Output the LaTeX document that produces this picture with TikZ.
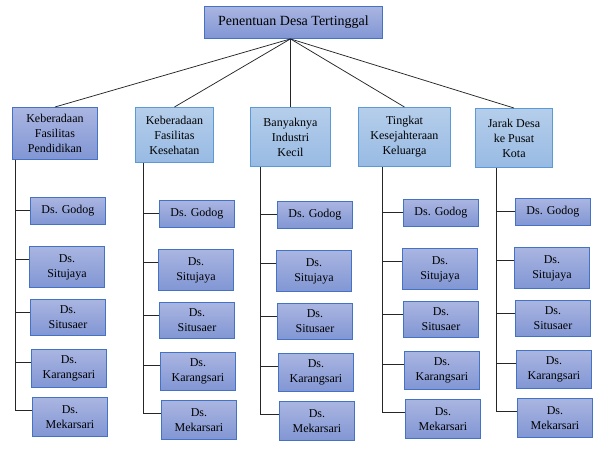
\documentclass[tikz,border=0pt]{standalone}
\usepackage{fontspec}
\setmainfont{Liberation Serif}
\usepackage{tikz}
\usetikzlibrary{calc}
\definecolor{darkline}{HTML}{4472C4}
\definecolor{darktop}{HTML}{AAB5E1}
\definecolor{darkbot}{HTML}{8196D4}
\definecolor{lightline}{HTML}{5B9BD5}
\definecolor{lighttop}{HTML}{B5CEEB}
\definecolor{lightbot}{HTML}{98BAE3}
\tikzset{
 darkbox/.style={draw=darkline, line width=0.9pt, top color=darktop, bottom color=darkbot, align=center, inner sep=0pt, anchor=north west, font=\fontsize{12}{15}\selectfont},
 lightbox/.style={darkbox, draw=lightline, top color=lighttop, bottom color=lightbot},
 conn/.style={black!85, line width=0.75pt}
}

\begin{document}
\begin{tikzpicture} [x=1pt, y=-1pt]
\useasboundingbox (0,0) rectangle (602,448);
\node[darkbox, minimum width=178, minimum height=32, font=\fontsize{14}{16}\selectfont] (root) at (204,6) {Penentuan Desa Tertinggal};
\coordinate (top) at ([xshift=-3pt]root.south);

\node[darkbox, minimum width=85, minimum height=52] (k1) at (12,107) {Keberadaan\\Fasilitas\\Pendidikan};
\node[lightbox, minimum width=78, minimum height=55] (k2) at (135,107) {Keberadaan\\Fasilitas\\Kesehatan};
\node[lightbox, minimum width=80, minimum height=59] (k3) at (250,107) {Banyaknya\\Industri\\Kecil};
\node[lightbox, minimum width=92, minimum height=59] (k4) at (358,107) {Tingkat\\Kesejahteraan\\Keluarga};
\node[lightbox, minimum width=77, minimum height=59] (k5) at (475,108) {Jarak Desa\\ke Pusat\\Kota};

\foreach \k in {1,...,5} {
 \draw[conn] (top) -- (k\k.north);
}

% villages under each criterion
\foreach \col/\dx/\dy/\tx in {1/0/0/15, 2/129/3/143, 3/247/4/260, 4/373/2/382, 5/485/1/496} {
 \coordinate (t\col) at (\tx,0);
 \foreach \row/\name/\rx/\ry/\h in {1/{Ds. Godog}/30/197/27, 2/{Ds.\\Situjaya}/29/246/41, 3/{Ds.\\Situsaer}/30/299/36, 4/{Ds.\\Karangsari}/31/349/38, 5/{Ds.\\Mekarsari}/32/397/39} {
  \node[darkbox, minimum width=75, minimum height=\h] (c\col\row) at (\rx+\dx,\ry+\dy) {\name};
  \coordinate (b\col\row) at ([yshift=-13pt]c\col\row.north west);
  \draw[conn] (b\col\row -| t\col) -- (b\col\row);
 }
 \draw[conn] (k\col.south -| t\col) -- (b\col5 -| t\col);
}
\end{tikzpicture}
\end{document}
